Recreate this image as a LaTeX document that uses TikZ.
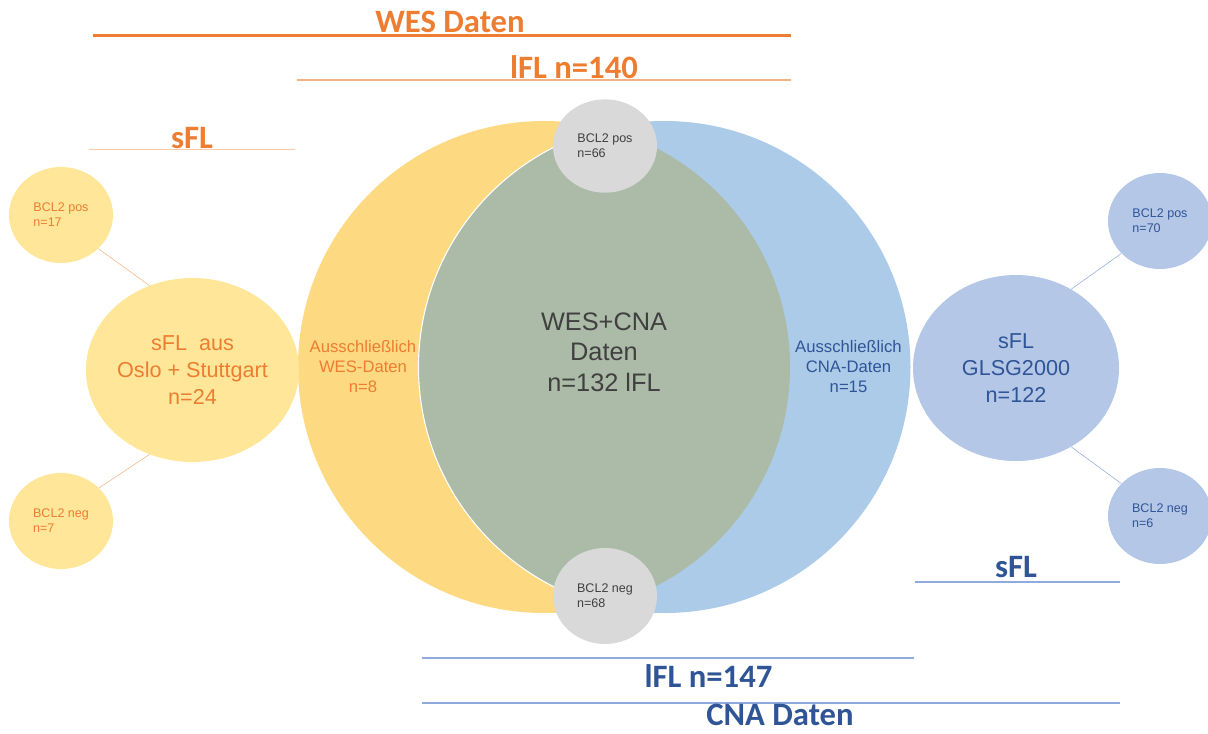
\documentclass[tikz,border=0pt]{standalone}
\usepackage{fontspec}
\setmainfont{Liberation Sans}
\newfontfamily\headfont{Carlito}
\usetikzlibrary{shapes.geometric}

\definecolor{wesyellow}{HTML}{FDDA81}
\definecolor{cnablue}{HTML}{ACCBE8}
\definecolor{bothgreen}{HTML}{ABBBA8}
\definecolor{bclgray}{HTML}{D9D9D9}
\definecolor{sflyellow}{HTML}{FFE699}
\definecolor{sflblue}{HTML}{B4C7E7}
\definecolor{wesorange}{HTML}{ED7D31}
\definecolor{cnadark}{HTML}{2F5597}
\definecolor{lineorange}{HTML}{F4B183}
\definecolor{linepeach}{HTML}{F8CBAD}
\definecolor{lineblue}{HTML}{8FAADC}
\definecolor{txtgray}{HTML}{404040}

\begin{document}
\begin{tikzpicture}[x=0.75pt, y=-0.75pt,
    small/.style={ellipse, inner sep=0pt, minimum width=78pt, minimum height=72pt, align=left, font=\fontsize{9.4}{11.25}\selectfont},
    big/.style={ellipse, inner sep=0pt, minimum width=154pt, minimum height=138pt, align=center, font=\fontsize{16.2}{20}\selectfont},
    venntext/.style={align=center, font=\fontsize{12.5}{15}\selectfont},
    head/.style={anchor=base, inner sep=0pt, font=\headfont\bfseries\fontsize{24.5}{29}\selectfont}]
    \useasboundingbox (0,0) rectangle (1208,733);
    % Venn circles
    \fill[wesyellow] (544,367) circle (184.5pt);
    \fill[cnablue] (664.5,367) circle (184.5pt);
    \begin{scope}
        \clip (544,367) circle (184.5pt);
        \fill[bothgreen] (664.5,367) circle (184.5pt);
        \draw[white, line width=0.8pt] (664.5,367) circle (184.5pt);
    \end{scope}
    \node[small, fill=bclgray, minimum height=70pt, text=txtgray] (pos) at (605,146) {BCL2 pos\\n=66};
    \node[small, fill=bclgray, text=txtgray] (neg) at (605,596) {BCL2 neg\\n=68};
    \node[venntext, text=wesorange] (wesonly) at (363,367) {Ausschließlich\\WES-Daten\\n=8};
    \node[venntext, text=cnadark] (cnaonly) at (848.5,367) {Ausschließlich\\CNA-Daten\\n=15};
    \node[align=center, text=txtgray, font=\fontsize{19}{22.8}\selectfont] (both) at (604,352) {WES+CNA\\Daten\\n=132 lFL};
    % Left side
    \node[big, fill=sflyellow, text=wesorange] (oslo) at (192.5,370) {sFL\ \ aus\\Oslo + Stuttgart\\n=24};
    \node[small, fill=sflyellow, text=wesorange] (lpos) at (61,215) {BCL2 pos\\n=17};
    \node[small, fill=sflyellow, text=wesorange] (lneg) at (61,521) {BCL2 neg\\n=7};
    \draw[lineorange] (oslo.117) -- (lpos.-42);
    \draw[lineorange] (oslo.-117) -- (lneg.41);
    % Right side
    \node[big, fill=sflblue, text=cnadark, minimum width=154.5pt, minimum height=139.5pt] (glsg) at (1016,368) {sFL\\GLSG2000\\n=122};
    \node[small, fill=sflblue, text=cnadark] (rpos) at (1160,221) {BCL2 pos\\n=70};
    \node[small, fill=sflblue, text=cnadark] (rneg) at (1160,516) {BCL2 neg\\n=6};
    \draw[lineblue] (glsg.55) -- (rpos.220);
    \draw[lineblue] (glsg.-55) -- (rneg.140);
    % Headings
    \node[head, text=wesorange] (wes) at (450,32) {WES Daten};
    \draw[wesorange, line width=2pt] (93,35.5) -- (791,35.5);
    \node[head, text=wesorange] (lfl1) at (574,78) {lFL n=140};
    \draw[lineorange, line width=1.5pt] (297,80) -- (791,80);
    \node[head, text=wesorange] (sfl1) at (192,148) {sFL};
    \draw[linepeach, line width=1pt] (89,149.5) -- (295,149.5);
    \node[head, text=cnadark] (sfl2) at (1016,577) {sFL};
    \draw[lineblue, line width=1pt] (915,582) -- (1120,582);
    \draw[lineblue, line width=1.5pt] (422,658) -- (914,658);
    \node[head, text=cnadark] (lfl2) at (708.5,687) {lFL n=147};
    \draw[lineblue, line width=1.5pt] (422,703) -- (1120,703);
    \node[head, text=cnadark] (cna) at (780,725.5) {CNA Daten};
\end{tikzpicture}
\end{document}
